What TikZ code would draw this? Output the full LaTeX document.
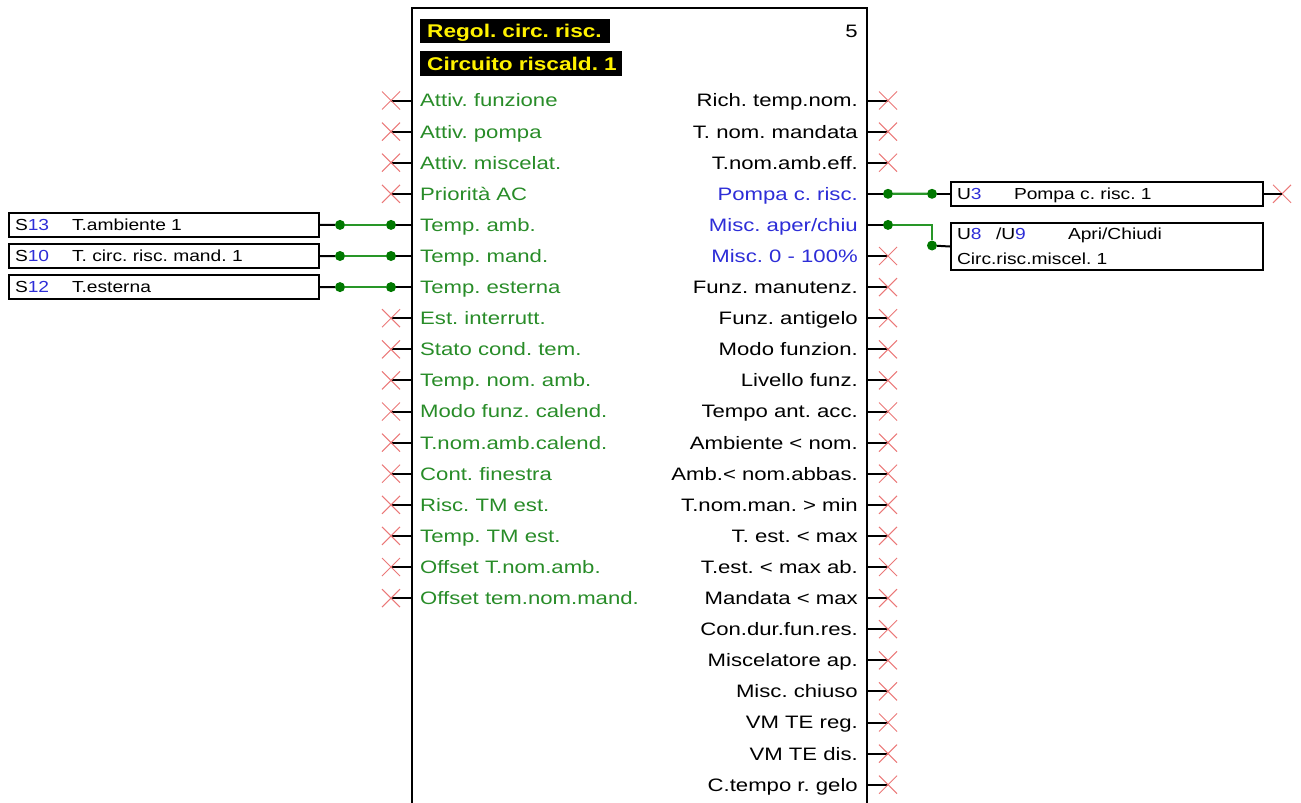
\documentclass[tikz,border=0pt]{standalone}
\usepackage{fontspec}
\usetikzlibrary{shapes.misc}
\newfontfamily\lblfont[FakeStretch=1.23]{Liberation Sans}
\newfontfamily\boxfont[FakeStretch=1.2]{Liberation Sans}
\definecolor{ingreen}{RGB}{40,140,40}
\definecolor{outblue}{RGB}{45,45,215}
\definecolor{wiregreen}{RGB}{40,150,40}
\definecolor{dotgreen}{RGB}{0,120,0}
\definecolor{xred}{RGB}{235,120,120}
\newcommand{\ioid}[3][57pt]{\makebox[#1][l]{#2\textcolor{outblue}{#3}}}
\frenchspacing
\begin{document}
\begin{tikzpicture}[x=1pt, y=-1pt,
    blk/.style={line width=2.2pt},
    stub/.style={line width=2pt},
    wire/.style={wiregreen, line width=2.2pt},
    dot/.style={circle, fill=dotgreen, inner sep=0pt, minimum size=10pt},
    xmark/.style={cross out, draw=xred, line width=1pt, inner sep=0pt, minimum size=17pt},
    intxt/.style={anchor=west, inner sep=0pt, text height=12.9pt, text depth=0pt, text=ingreen, font=\lblfont\fontsize{18}{22}\selectfont},
    outtxt/.style={anchor=east, inner sep=0pt, text height=12.9pt, text depth=0pt, font=\lblfont\fontsize{18}{22}\selectfont},
    hdr/.style={anchor=west, fill=black, text=yellow, inner xsep=7pt, inner ysep=0pt, text height=13.2pt, text depth=0pt, align=left, font=\lblfont\bfseries\fontsize{18.4}{22}\selectfont},
    iobox/.style={draw, line width=2pt, inner xsep=6pt, inner ysep=0pt, align=left, font=\boxfont\fontsize{16}{25}\selectfont},
    srcbox/.style={iobox, anchor=west, minimum height=24pt, text height=11.5pt, text depth=0pt, text width=298pt}]
    \useasboundingbox (0,0) rectangle (1301,803);
    % block frame, open at the bottom
    \draw[blk] (412,803) |- (867,8) -- (867,803);
    \node[hdr, minimum height=24pt, text width=176pt] (title) at (420,31) {\mbox{Regol. circ. risc.}};
    \node[hdr, minimum height=25pt, text width=188pt] (subtitle) at (420,63.5) {\mbox{Circuito riscald. 1}};
    \node[outtxt] (num) at (858,31) {5};
    % inputs
    \foreach \t [count=\i] in {Attiv. funzione, Attiv. pompa, Attiv. miscelat., Priorità AC,
        Temp. amb., Temp. mand., Temp. esterna, Est. interrutt., Stato cond. tem.,
        Temp. nom. amb., Modo funz. calend., T.nom.amb.calend., Cont. finestra,
        Risc. TM est., Temp. TM est., Offset T.nom.amb., Offset tem.nom.mand.} {
        \pgfmathsetmacro{\y}{100.5+31.1*(\i-1)}
        \coordinate (ip\i) at (412,\y);
        \coordinate (ie\i) at (391,\y);
        \node[intxt] (in\i) at (420,\y) {\t};
        \draw[stub] (ip\i) -- (ie\i);
    }
    % outputs
    \foreach \t/\c [count=\i] in {Rich. temp.nom./black, T. nom. mandata/black, T.nom.amb.eff./black,
        Pompa c. risc./outblue, {Misc. aper/chiu}/outblue, Misc. 0 - 100\%/outblue,
        Funz. manutenz./black, Funz. antigelo/black, Modo funzion./black, Livello funz./black,
        Tempo ant. acc./black, Ambiente < nom./black, Amb.< nom.abbas./black,
        T.nom.man. > min/black, T. est. < max/black, T.est. < max ab./black,
        Mandata < max/black, Con.dur.fun.res./black, Miscelatore ap./black,
        Misc. chiuso/black, VM TE reg./black, VM TE dis./black, C.tempo r. gelo/black} {
        \pgfmathsetmacro{\y}{100.5+31.1*(\i-1)}
        \coordinate (op\i) at (867,\y);
        \coordinate (oe\i) at (888,\y);
        \node[outtxt, text=\c] (out\i) at (858,\y) {\t};
        \draw[stub] (op\i) -- (oe\i);
    }
    % open pins
    \foreach \i in {1,2,3,4,8,9,10,...,17} \node[xmark] (xi\i) at (ie\i) {};
    \foreach \i in {1,2,3,6,7,8,...,23} \node[xmark] (xo\i) at (oe\i) {};
    % sensors
    \node[srcbox] (s13) at (8,224.9) {\ioid{S}{13}T.ambiente 1};
    \node[srcbox] (s10) at (8,256) {\ioid{S}{10}T. circ. risc. mand. 1};
    \node[srcbox] (s12) at (8,287.1) {\ioid{S}{12}T.esterna};
    \foreach \s/\i in {s13/5, s10/6, s12/7} {
        \node[dot] (\s a) at (340,0 |- ie\i) {};
        \node[dot] (\s b) at (ie\i) {};
        \draw[stub] (\s.east) -- (\s a);
        \draw[wire] (\s a) -- (\s b);
        \draw[stub] (\s b) -- (ip\i);
    }
    % outputs wired
    \node[srcbox, text width=300pt] (u3) at (950,193.8) {\ioid{U}{3}Pompa c. risc. 1};
    \node[iobox, anchor=north west, minimum height=47pt, text width=300pt] (u89) at (950,222)
        {\ioid[39pt]{U}{8}\ioid[72pt]{/U}{9}Apri/Chiudi\\Circ.risc.miscel. 1};
    \node[dot] (pa) at (oe4) {};
    \node[dot] (pb) at (932,193.8) {};
    \draw[stub] (op4) -- (pa);
    \draw[wire] (pa) -- (pb);
    \draw[stub] (pb) -- (u3.west);
    \node[dot] (ma) at (oe5) {};
    \node[dot] (mb) at (932,245.5) {};
    \draw[stub] (op5) -- (ma);
    \draw[wire] (ma) -| (mb);
    \draw[stub] (mb) -- (u89.west);
    \node[xmark] (xu3) at (1282,193.8) {};
    \draw[stub] (u3.east) -- (xu3.center);
\end{tikzpicture}
\end{document}
